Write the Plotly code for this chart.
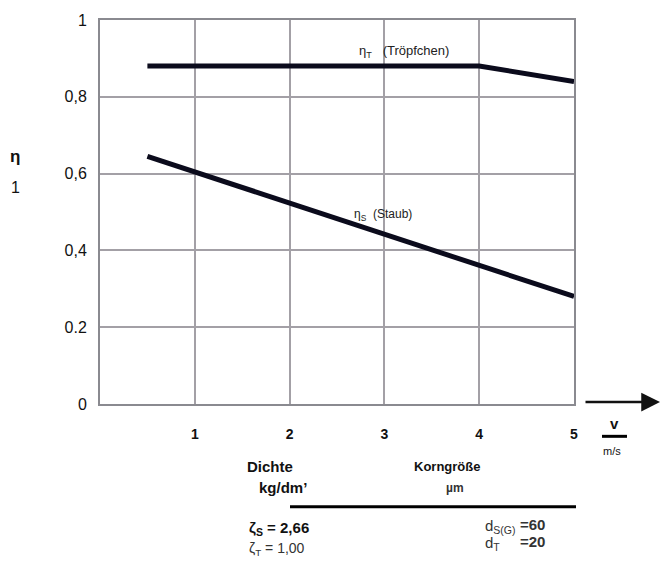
import plotly.graph_objects as go

# data
v_T = [0.5, 4.0, 5.0]
eta_T = [0.88, 0.88, 0.84]
v_S = [0.5, 5.0]
eta_S = [0.645, 0.28]
x_ticks = [1, 2, 3, 4, 5]
x_ticklabels = ["1", "2", "3", "4", "5"]
y_ticks = [0, 0.2, 0.4, 0.6, 0.8, 1.0]
y_ticklabels = ["0", "0.2", "0,4", "0,6", "0,8", "1"]

W, H = 663, 569
L, R, T, B = 100, 89, 12, 165
pw, ph = W - L - R, H - T - B

def px(x):
    return (x - L) / pw

def py(y):
    return (H - B - y) / ph

LINE = "#0b0b1c"
GRID = "#a3a0a6"
FONT = "Liberation Sans, Arial, sans-serif"

fig = go.Figure()
fig.add_trace(go.Scatter(x=v_T, y=eta_T, mode="lines",
                         line=dict(color=LINE, width=5), showlegend=False))
fig.add_trace(go.Scatter(x=v_S, y=eta_S, mode="lines",
                         line=dict(color=LINE, width=5), showlegend=False))

fig.update_layout(
    width=W, height=H,
    margin=dict(l=L, r=R, t=T, b=B, pad=0),
    paper_bgcolor="white", plot_bgcolor="white",
    font=dict(family=FONT, size=14, color="#111"),
    xaxis=dict(range=[0, 5], tickvals=x_ticks, ticktext=x_ticklabels,
               showgrid=True, gridcolor=GRID, gridwidth=1.5,
               showline=True, linecolor="#8a8a90", linewidth=2, mirror=True,
               zeroline=False, ticks="", ticklabelstandoff=16,
               tickfont=dict(family=FONT, size=14, color="#111", weight="bold")),
    yaxis=dict(range=[0, 1], tickvals=y_ticks, ticktext=y_ticklabels,
               showgrid=True, gridcolor=GRID, gridwidth=1.5,
               showline=True, linecolor="#8a8a90", linewidth=2, mirror=True,
               zeroline=False, ticks="", ticklabelstandoff=8,
               tickfont=dict(family=FONT, size=16, color="#111")),
)

ann = []
def text(x, y, s, size=14, bold=False, xanchor="center", color="#111"):
    ann.append(dict(xref="paper", yref="paper", x=px(x), y=py(y), text=s,
                    showarrow=False, xanchor=xanchor, yanchor="middle",
                    font=dict(family=FONT, size=size, color=color,
                              weight="bold" if bold else "normal")))

# line labels
text(357, 44, "η<sub>T</sub>   (Tröpfchen)", size=13, xanchor="left", color="#222")
text(352, 211, "η<sub>S</sub>  (Staub)", size=12, xanchor="left", color="#222")
# y axis title
text(15, 151, "η", size=17, bold=True)
text(15, 183, "1", size=16)
# x axis unit
text(614, 424, "v", size=15, bold=True)
text(612, 452, "m/s", size=11)
# table
text(270, 468, "Dichte", size=15, bold=True)
text(283, 489, "kg/dm’", size=15, bold=True)
text(447, 468, "Korngröße", size=13, bold=True)
text(455, 490, "µm", size=12, bold=True, color="#333")
text(247, 531, "ζ<sub>S</sub> = 2,66", size=15, bold=True, xanchor="left")
text(247, 552, "ζ<sub>T</sub> = 1,00", size=14, xanchor="left", color="#333")
text(483, 529, "d<sub>S(G)</sub>", size=15, xanchor="left", color="#333")
text(483, 546, "d<sub>T</sub>", size=15, xanchor="left", color="#333")
text(518, 527, "=60", size=15, bold=True, xanchor="left", color="#333")
text(518, 544, "=20", size=15, bold=True, xanchor="left", color="#333")

# arrow along x axis
ann.append(dict(xref="paper", yref="paper", x=px(660), y=py(402),
                ax=-76, ay=0, showarrow=True, arrowhead=2, arrowsize=1.5,
                arrowwidth=2.5, arrowcolor="#111", text=""))
fig.update_layout(annotations=ann)

fig.add_shape(type="line", xref="paper", yref="paper",
              x0=px(290), x1=px(576), y0=py(509), y1=py(509),
              line=dict(color="#000", width=3))
fig.add_shape(type="line", xref="paper", yref="paper",
              x0=px(602), x1=px(627), y0=py(437), y1=py(437),
              line=dict(color="#000", width=3))

fig.write_html("out.html")
